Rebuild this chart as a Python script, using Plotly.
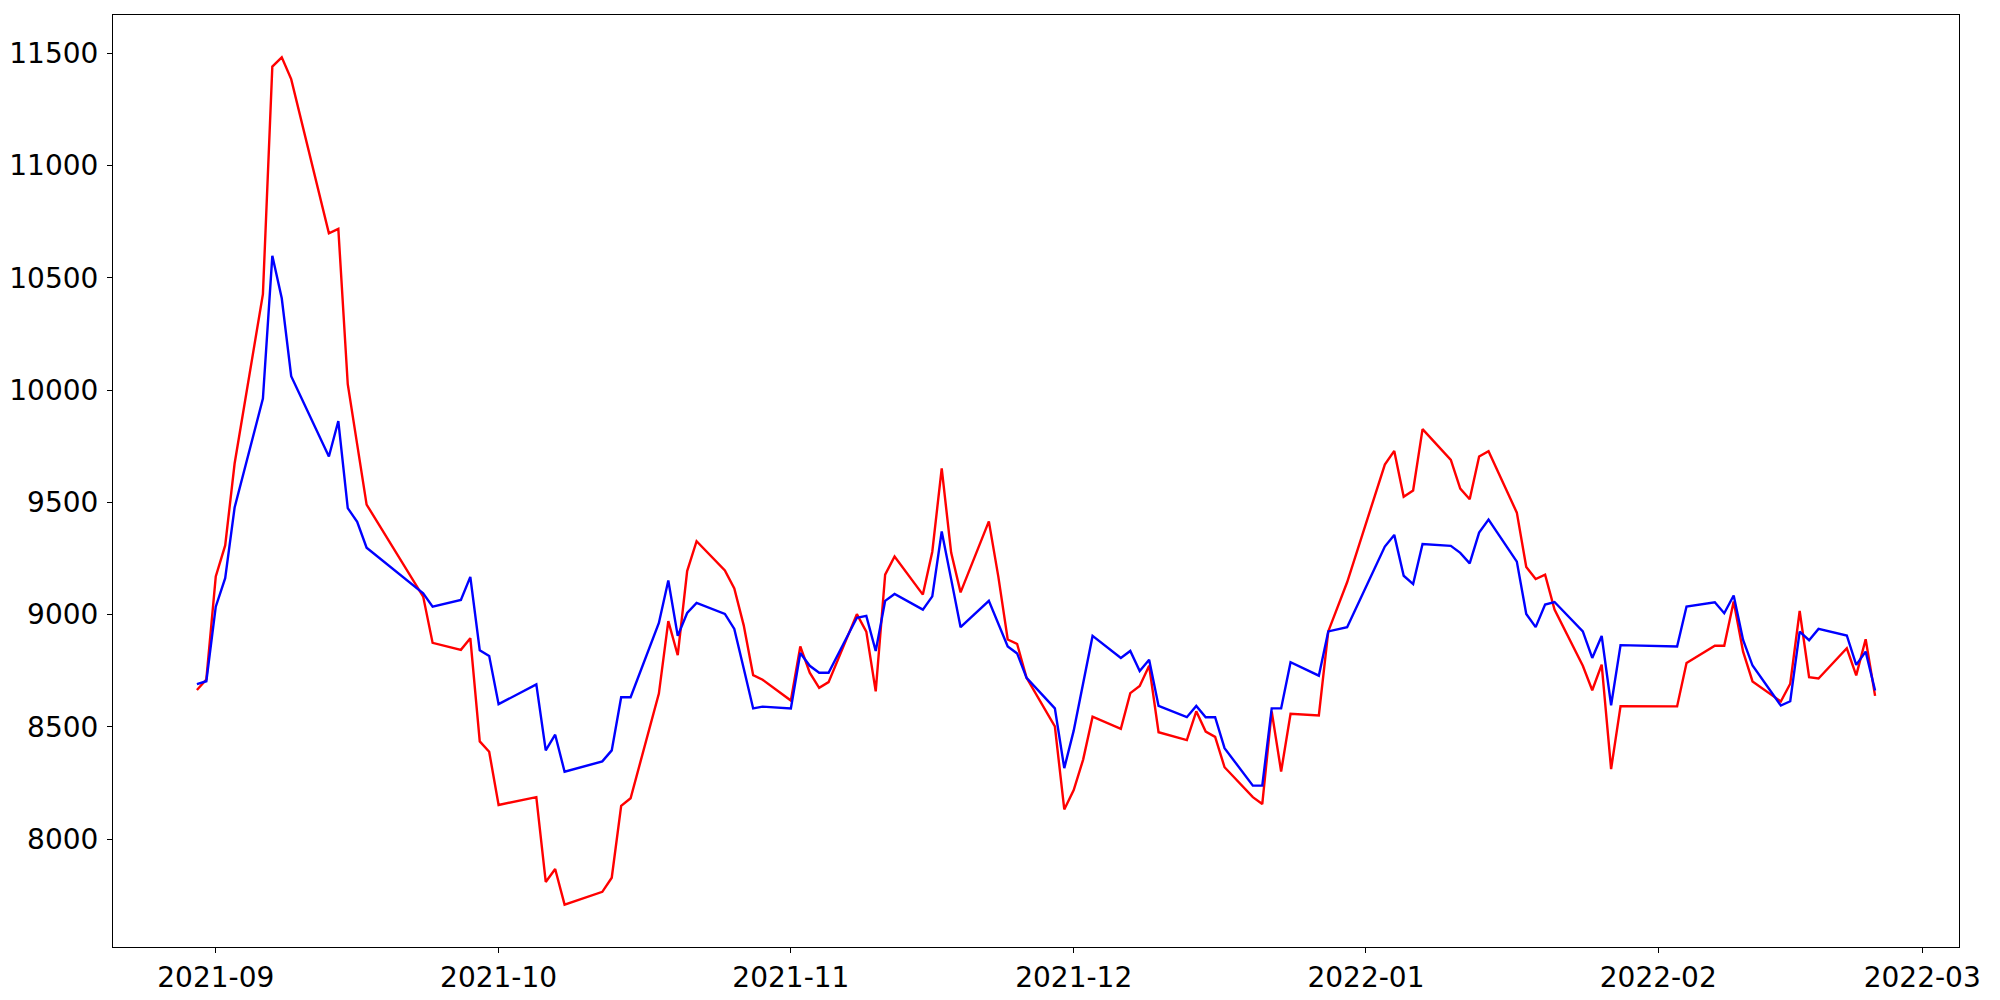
import pandas as pd
import plotly.graph_objects as go

dates = [
    "2021-08-30", "2021-08-31", "2021-09-01", "2021-09-02", "2021-09-03",
    "2021-09-06", "2021-09-07", "2021-09-08", "2021-09-09", "2021-09-13",
    "2021-09-14", "2021-09-15", "2021-09-16", "2021-09-17", "2021-09-23",
    "2021-09-24", "2021-09-27", "2021-09-28", "2021-09-29", "2021-09-30",
    "2021-10-01", "2021-10-05", "2021-10-06", "2021-10-07", "2021-10-08",
    "2021-10-12", "2021-10-13", "2021-10-14", "2021-10-15", "2021-10-18",
    "2021-10-19", "2021-10-20", "2021-10-21", "2021-10-22", "2021-10-25",
    "2021-10-26", "2021-10-27", "2021-10-28", "2021-10-29", "2021-11-01",
    "2021-11-02", "2021-11-03", "2021-11-04", "2021-11-05", "2021-11-08",
    "2021-11-09", "2021-11-10", "2021-11-11", "2021-11-12", "2021-11-15",
    "2021-11-16", "2021-11-17", "2021-11-18", "2021-11-19", "2021-11-22",
    "2021-11-23", "2021-11-24", "2021-11-25", "2021-11-26", "2021-11-29",
    "2021-11-30", "2021-12-01", "2021-12-02", "2021-12-03", "2021-12-06",
    "2021-12-07", "2021-12-08", "2021-12-09", "2021-12-10", "2021-12-13",
    "2021-12-14", "2021-12-15", "2021-12-16", "2021-12-17", "2021-12-20",
    "2021-12-21", "2021-12-22", "2021-12-23", "2021-12-24", "2021-12-27",
    "2021-12-28", "2021-12-29", "2021-12-30", "2022-01-03", "2022-01-04",
    "2022-01-05", "2022-01-06", "2022-01-07", "2022-01-10", "2022-01-11",
    "2022-01-12", "2022-01-13", "2022-01-14", "2022-01-17", "2022-01-18",
    "2022-01-19", "2022-01-20", "2022-01-21", "2022-01-24", "2022-01-25",
    "2022-01-26", "2022-01-27", "2022-01-28", "2022-02-03", "2022-02-04",
    "2022-02-07", "2022-02-08", "2022-02-09", "2022-02-10", "2022-02-11",
    "2022-02-14", "2022-02-15", "2022-02-16", "2022-02-17", "2022-02-18",
    "2022-02-21", "2022-02-22", "2022-02-23", "2022-02-24",
]

red_values = [
    8664, 8711, 9170, 9308, 9673,
    10427, 11441, 11482, 11385, 10698,
    10718, 10026, 9758, 9490, 9080,
    8874, 8843, 8895, 8435, 8389,
    8152, 8187, 7809, 7867, 7708,
    7765, 7828, 8148, 8182, 8648,
    8971, 8819, 9194, 9327, 9197,
    9116, 8952, 8730, 8710, 8617,
    8858, 8741, 8674, 8699, 9002,
    8924, 8658, 9178, 9259, 9089,
    9280, 9651, 9276, 9099, 9415,
    9170, 8889, 8869, 8718, 8502,
    8132, 8218, 8354, 8545, 8491,
    8650, 8682, 8772, 8476, 8441,
    8569, 8479, 8455, 8320, 8187,
    8156, 8569, 8301, 8558, 8551,
    8925, 9036, 9144, 9668, 9729,
    9525, 9553, 9826, 9689, 9561,
    9514, 9704, 9728, 9454, 9212,
    9158, 9178, 9022, 8772, 8663,
    8777, 8312, 8592, 8591, 8784,
    8861, 8861, 9058, 8835, 8702,
    8613, 8692, 9016, 8721, 8715,
    8850, 8729, 8890, 8638,
]

blue_values = [
    8690, 8703, 9035, 9162, 9477,
    9962, 10598, 10409, 10062, 9704,
    9862, 9474, 9413, 9298, 9095,
    9035, 9065, 9168, 8841, 8816,
    8601, 8689, 8395, 8465, 8300,
    8346, 8395, 8632, 8632, 8963,
    9152, 8905, 9007, 9052, 9003,
    8936, 8760, 8582, 8590, 8582,
    8829, 8772, 8741, 8741, 8986,
    8994, 8838, 9061, 9092, 9022,
    9081, 9370, 9158, 8944, 9061,
    8960, 8858, 8827, 8718, 8582,
    8316, 8483, 8694, 8905, 8807,
    8838, 8749, 8799, 8593, 8543,
    8593, 8543, 8543, 8405, 8238,
    8238, 8582, 8582, 8788, 8728,
    8925, 8935, 8944, 9303, 9355,
    9173, 9136, 9314, 9306, 9275,
    9228, 9365, 9423, 9236, 9003,
    8944, 9045, 9056, 8925, 8807,
    8905, 8596, 8864, 8858, 9036,
    9055, 9006, 9085, 8887, 8773,
    8595, 8614, 8924, 8886, 8936,
    8907, 8776, 8835, 8662,
]

x_tick_vals = ["2021-09-01", "2021-10-01", "2021-11-01", "2021-12-01",
               "2022-01-01", "2022-02-01", "2022-03-01"]
x_tick_text = ["2021-09", "2021-10", "2021-11", "2021-12",
               "2022-01", "2022-02", "2022-03"]
y_tick_vals = [8000, 8500, 9000, 9500, 10000, 10500, 11000, 11500]

dt = pd.to_datetime(dates)
span = dt.max() - dt.min()
x_range = [dt.min() - 0.05 * span, dt.max() + 0.05 * span]
all_vals = red_values + blue_values
vspan = max(all_vals) - min(all_vals)
y_range = [min(all_vals) - 0.05 * vspan, max(all_vals) + 0.05 * vspan]

fig = go.Figure()
fig.add_trace(go.Scatter(x=dt, y=red_values, mode="lines",
                         line=dict(color="#FF0000", width=2.4), showlegend=False))
fig.add_trace(go.Scatter(x=dt, y=blue_values, mode="lines",
                         line=dict(color="#0000FF", width=2.4), showlegend=False))

axis_common = dict(
    showgrid=False, zeroline=False, showline=True, linecolor="black",
    linewidth=1.1, mirror=True, ticks="outside", ticklen=5, tickwidth=1.1,
    tickcolor="black", automargin=False,
    tickfont=dict(family="DejaVu Sans", size=28, color="black"),
)

fig.update_xaxes(range=x_range, tickmode="array", tickvals=x_tick_vals,
                 ticktext=x_tick_text, **axis_common)
fig.update_yaxes(range=y_range, tickmode="array", tickvals=y_tick_vals,
                 ticktext=[str(v) for v in y_tick_vals],
                 ticklabelstandoff=3, **axis_common)

fig.update_layout(
    width=2000, height=1000,
    margin=dict(l=105, r=49, t=7, b=61, pad=0),
    paper_bgcolor="white", plot_bgcolor="white",
    font=dict(family="DejaVu Sans", color="black"),
)

fig.write_html("out.html")
